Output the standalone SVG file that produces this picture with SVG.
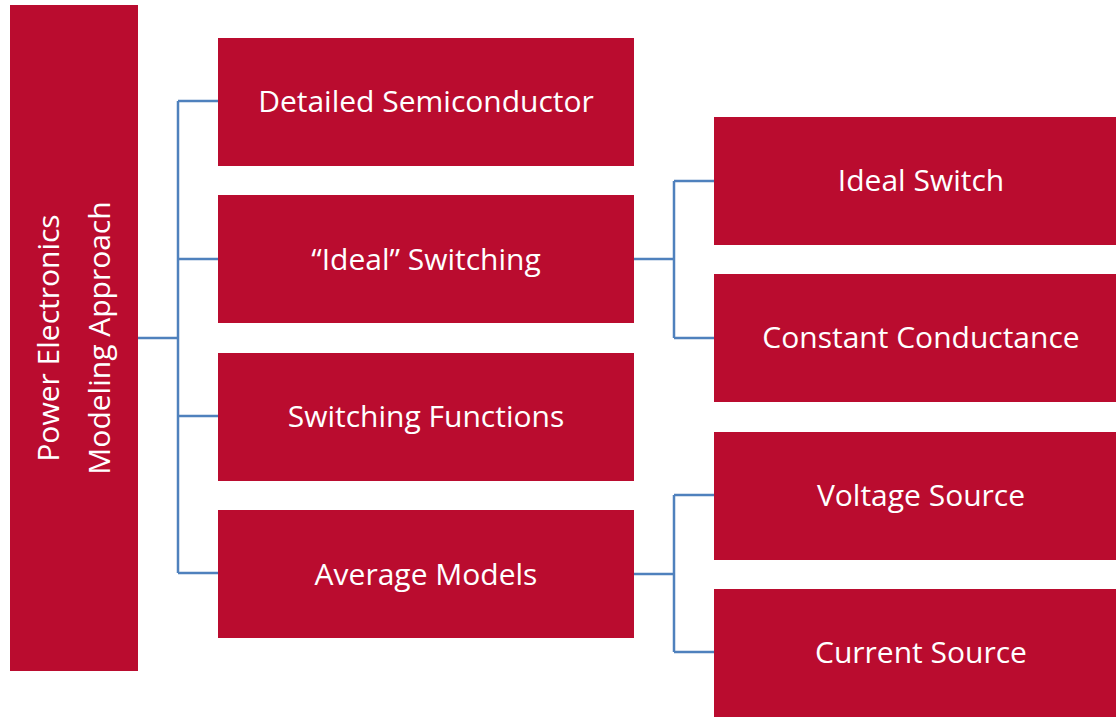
<svg xmlns="http://www.w3.org/2000/svg" width="1116" height="717" viewBox="0 0 1116 717">
  <style>
    .box { fill: #BA0C2F; }
    .lbl { fill: #FFFFFF; font-family: "Open Sans", "Liberation Sans", sans-serif; font-size: 30px; text-anchor: middle; dominant-baseline: central; }
    .wire { fill: none; stroke: #4F81BD; stroke-width: 2.5; }
  </style>
  <rect width="1116" height="717" fill="#FFFFFF"/>

  <!-- connectors -->
  <g id="connectors">
    <path class="wire" d="M138 338 H178 M178 101 V573 M178 101 H218 M178 259 H218 M178 416 H218 M178 573 H218"/>
    <path class="wire" d="M634 259 H674 M674 181 V338 M674 181 H714 M674 338 H714"/>
    <path class="wire" d="M634 574 H674 M674 495 V652 M674 495 H714 M674 652 H714"/>
  </g>

  <!-- root -->
  <g id="root">
    <rect class="box" x="10" y="5" width="128" height="666"/>
    <text class="lbl" transform="translate(47 338) rotate(-90)">Power Electronics</text>
    <text class="lbl" transform="translate(98 338) rotate(-90)">Modeling Approach</text>
  </g>

  <!-- modelling levels -->
  <g id="detailed">
    <rect class="box" x="218" y="38" width="416" height="128"/>
    <text class="lbl" x="426" y="100">Detailed Semiconductor</text>
  </g>
  <g id="ideal">
    <rect class="box" x="218" y="195" width="416" height="128"/>
    <text class="lbl" x="426" y="258">“Ideal” Switching</text>
  </g>
  <g id="functions">
    <rect class="box" x="218" y="353" width="416" height="128"/>
    <text class="lbl" x="426" y="415">Switching Functions</text>
  </g>
  <g id="average">
    <rect class="box" x="218" y="510" width="416" height="128"/>
    <text class="lbl" x="426" y="573">Average Models</text>
  </g>

  <!-- sub-variants -->
  <g id="ideal-switch">
    <rect class="box" x="714" y="117" width="402" height="128"/>
    <text class="lbl" x="921" y="179">Ideal Switch</text>
  </g>
  <g id="constant-conductance">
    <rect class="box" x="714" y="274" width="402" height="128"/>
    <text class="lbl" x="921" y="336">Constant Conductance</text>
  </g>
  <g id="voltage-source">
    <rect class="box" x="714" y="432" width="402" height="128"/>
    <text class="lbl" x="921" y="494">Voltage Source</text>
  </g>
  <g id="current-source">
    <rect class="box" x="714" y="589" width="402" height="128"/>
    <text class="lbl" x="921" y="651">Current Source</text>
  </g>
</svg>
